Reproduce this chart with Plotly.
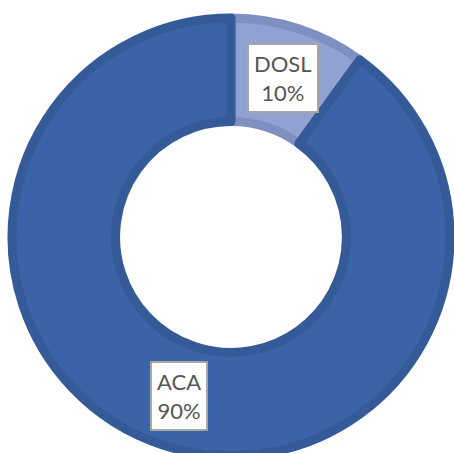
import math
import plotly.graph_objects as go

categories = ["DOSL", "ACA"]
values = [10, 90]
fill_colors = ["#8fa2d2", "#3b64a8"]
line_colors = ["#7f90c0", "#345a98"]

W, H = 454, 456
ml, mr, mt, mb = 12, 4, 18, 0
hole = 0.527

fig = go.Figure(go.Pie(
    labels=categories,
    values=values,
    sort=False,
    direction="clockwise",
    rotation=0,
    hole=hole,
    marker=dict(colors=fill_colors, line=dict(color=line_colors, width=9)),
    textinfo="none",
    hoverinfo="none",
    showlegend=False,
    domain=dict(x=[0, 1], y=[0, 1]),
))

# labels at the slice mid-angle, middle of the ring (paper coordinates)
total = sum(values)
cum = 0
annotations = []
rmid = (1 + hole) / 2 * 0.5
for cat, v in zip(categories, values):
    mid = (cum + v / 2) / total * 2 * math.pi
    cum += v
    pct = round(v / total * 100)
    annotations.append(dict(
        x=0.5 + rmid * math.sin(mid),
        y=0.5 + rmid * math.cos(mid),
        xref="paper", yref="paper",
        text=f"{cat}<br>{pct}%",
        showarrow=False,
        font=dict(family="Lato", size=22, color="#555555"),
        bgcolor="white",
        bordercolor="#a6a6a6",
        borderwidth=2,
        borderpad=5,
        xanchor="center", yanchor="middle",
    ))

fig.update_layout(
    width=W, height=H,
    margin=dict(l=ml, r=mr, t=mt, b=mb),
    paper_bgcolor="white",
    plot_bgcolor="white",
    annotations=annotations,
)

fig.write_html("out.html", config={"displayModeBar": False},
               post_script="document.body.style.margin='0';document.body.style.overflow='hidden';")
